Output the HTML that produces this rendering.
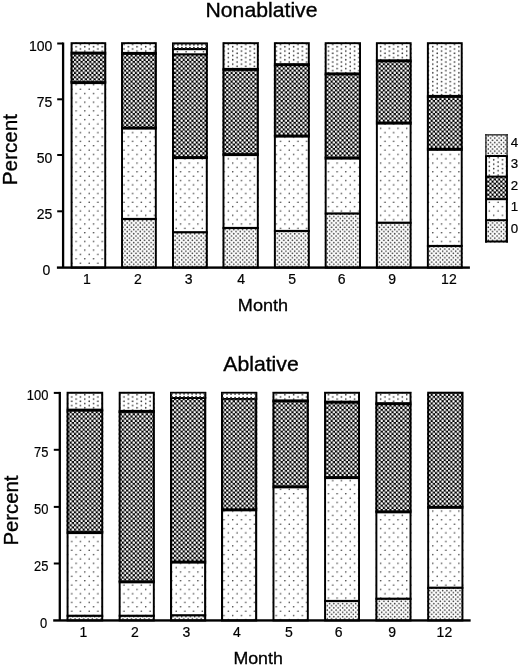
<!DOCTYPE html>
<html><head><meta charset="utf-8"><title>Chart</title>
<style>html,body{margin:0;padding:0;background:#fff;}svg{display:block}</style></head>
<body><svg width="520" height="666" viewBox="0 0 520 666" font-family='"Liberation Sans", sans-serif' fill="#000"><defs><pattern id="p0" width="4.35" height="4.35" patternUnits="userSpaceOnUse"><rect width="4.35" height="4.35" fill="#fff"/><circle cx="1.0875" cy="1.0875" r="0.8" fill="#333"/><circle cx="3.2624999999999997" cy="3.2624999999999997" r="0.8" fill="#333"/></pattern><pattern id="p4" width="4.35" height="4.35" patternUnits="userSpaceOnUse"><rect width="4.35" height="4.35" fill="#fff"/><circle cx="1.0875" cy="1.0875" r="0.8" fill="#333"/><circle cx="3.2624999999999997" cy="3.2624999999999997" r="0.8" fill="#333"/></pattern><pattern id="p1" width="8.7" height="8.7" patternUnits="userSpaceOnUse"><rect width="8.7" height="8.7" fill="#fff"/><circle cx="2.175" cy="2.175" r="0.8" fill="#303030"/><circle cx="6.5249999999999995" cy="6.5249999999999995" r="0.8" fill="#303030"/></pattern><pattern id="p3" width="8.7" height="4.35" patternUnits="userSpaceOnUse"><rect width="8.7" height="4.35" fill="#fff"/><circle cx="2.175" cy="1.0875" r="0.8" fill="#303030"/><circle cx="6.5249999999999995" cy="3.2624999999999997" r="0.8" fill="#303030"/></pattern><pattern id="p2" width="4.35" height="4.35" patternUnits="userSpaceOnUse"><rect width="4.35" height="4.35" fill="#000"/><circle cx="1.0875" cy="1.0875" r="1.22" fill="#fff"/><circle cx="3.2624999999999997" cy="3.2624999999999997" r="1.22" fill="#fff"/></pattern></defs><text transform="translate(261.5,17) scale(1.035,1)" font-size="20.5" text-anchor="middle" stroke="#000" stroke-width="0.35">Nonablative</text><rect x="70.6" y="42.2" width="35.60000000000001" height="10.5" fill="url(#p3)"/><rect x="70.6" y="52.7" width="35.60000000000001" height="30.299999999999997" fill="url(#p2)"/><rect x="70.6" y="83" width="35.60000000000001" height="184.60000000000002" fill="url(#p1)"/><rect x="70.6" y="51.60" width="35.60000000000001" height="3.00" fill="#000"/><rect x="70.6" y="81.10" width="35.60000000000001" height="3.00" fill="#000"/><rect x="71.57499999999999" y="43.175000000000004" width="33.650000000000006" height="224.42500000000004" fill="none" stroke="#000" stroke-width="1.95"/><rect x="121.05" y="42.2" width="35.750000000000014" height="10.799999999999997" fill="url(#p3)"/><rect x="121.05" y="53" width="35.750000000000014" height="75.5" fill="url(#p2)"/><rect x="121.05" y="128.5" width="35.750000000000014" height="90.5" fill="url(#p1)"/><rect x="121.05" y="219" width="35.750000000000014" height="48.60000000000002" fill="url(#p0)"/><rect x="121.05" y="51.90" width="35.750000000000014" height="3.00" fill="#000"/><rect x="121.05" y="126.60" width="35.750000000000014" height="3.00" fill="#000"/><rect x="121.05" y="217.90" width="35.750000000000014" height="2.20" fill="#000"/><rect x="122.02499999999999" y="43.175000000000004" width="33.80000000000001" height="224.42500000000004" fill="none" stroke="#000" stroke-width="1.95"/><rect x="172.0" y="42.6" width="35.80000000000001" height="11.799999999999997" fill="#000"/><rect x="172.0" y="54.4" width="35.80000000000001" height="103.6" fill="url(#p2)"/><rect x="172.0" y="158" width="35.80000000000001" height="74.25" fill="url(#p1)"/><rect x="172.0" y="232.25" width="35.80000000000001" height="35.35000000000002" fill="url(#p0)"/><rect x="172.0" y="53.40" width="35.80000000000001" height="2.00" fill="#000"/><rect x="172.0" y="156.10" width="35.80000000000001" height="3.00" fill="#000"/><rect x="172.0" y="231.15" width="35.80000000000001" height="2.20" fill="#000"/><rect x="173.0" y="43.6" width="33.80000000000001" height="224.00000000000003" fill="none" stroke="#000" stroke-width="2.0"/><rect x="173.9" y="44.4" width="32.0" height="3.6000000000000014" fill="#fff"/><circle cx="173.90" cy="44.70" r="0.95" fill="#333"/><circle cx="173.90" cy="47.70" r="0.95" fill="#333"/><circle cx="177.90" cy="44.70" r="0.95" fill="#333"/><circle cx="177.90" cy="47.70" r="0.95" fill="#333"/><circle cx="181.90" cy="44.70" r="0.95" fill="#333"/><circle cx="181.90" cy="47.70" r="0.95" fill="#333"/><circle cx="185.90" cy="44.70" r="0.95" fill="#333"/><circle cx="185.90" cy="47.70" r="0.95" fill="#333"/><circle cx="189.90" cy="44.70" r="0.95" fill="#333"/><circle cx="189.90" cy="47.70" r="0.95" fill="#333"/><circle cx="193.90" cy="44.70" r="0.95" fill="#333"/><circle cx="193.90" cy="47.70" r="0.95" fill="#333"/><circle cx="197.90" cy="44.70" r="0.95" fill="#333"/><circle cx="197.90" cy="47.70" r="0.95" fill="#333"/><circle cx="201.90" cy="44.70" r="0.95" fill="#333"/><circle cx="201.90" cy="47.70" r="0.95" fill="#333"/><circle cx="205.90" cy="44.70" r="0.95" fill="#333"/><circle cx="205.90" cy="47.70" r="0.95" fill="#333"/><rect x="173.9" y="50.2" width="32.0" height="3.0999999999999943" fill="#fff"/><circle cx="177.40" cy="51.75" r="0.85" fill="#555"/><circle cx="186.10" cy="51.75" r="0.85" fill="#555"/><circle cx="194.80" cy="51.75" r="0.85" fill="#555"/><circle cx="203.50" cy="51.75" r="0.85" fill="#555"/><rect x="222.5" y="42.2" width="36.30000000000001" height="26.799999999999997" fill="url(#p3)"/><rect x="222.5" y="69" width="36.30000000000001" height="86" fill="url(#p2)"/><rect x="222.5" y="155" width="36.30000000000001" height="73" fill="url(#p1)"/><rect x="222.5" y="228" width="36.30000000000001" height="39.60000000000002" fill="url(#p0)"/><rect x="222.5" y="67.90" width="36.30000000000001" height="3.00" fill="#000"/><rect x="222.5" y="153.10" width="36.30000000000001" height="3.00" fill="#000"/><rect x="222.5" y="226.90" width="36.30000000000001" height="2.20" fill="#000"/><rect x="223.475" y="43.175000000000004" width="34.35000000000001" height="224.42500000000004" fill="none" stroke="#000" stroke-width="1.95"/><rect x="273.9" y="42.2" width="35.900000000000034" height="22.049999999999997" fill="url(#p3)"/><rect x="273.9" y="64.25" width="35.900000000000034" height="72.25" fill="url(#p2)"/><rect x="273.9" y="136.5" width="35.900000000000034" height="94.5" fill="url(#p1)"/><rect x="273.9" y="231" width="35.900000000000034" height="36.60000000000002" fill="url(#p0)"/><rect x="273.9" y="63.15" width="35.900000000000034" height="3.00" fill="#000"/><rect x="273.9" y="134.60" width="35.900000000000034" height="3.00" fill="#000"/><rect x="273.9" y="229.90" width="35.900000000000034" height="2.20" fill="#000"/><rect x="274.875" y="43.175000000000004" width="33.95000000000003" height="224.42500000000004" fill="none" stroke="#000" stroke-width="1.95"/><rect x="324.7" y="42.2" width="36.30000000000001" height="31.299999999999997" fill="url(#p3)"/><rect x="324.7" y="73.5" width="36.30000000000001" height="85.0" fill="url(#p2)"/><rect x="324.7" y="158.5" width="36.30000000000001" height="55.0" fill="url(#p1)"/><rect x="324.7" y="213.5" width="36.30000000000001" height="54.10000000000002" fill="url(#p0)"/><rect x="324.7" y="72.40" width="36.30000000000001" height="3.00" fill="#000"/><rect x="324.7" y="156.60" width="36.30000000000001" height="3.00" fill="#000"/><rect x="324.7" y="212.40" width="36.30000000000001" height="2.20" fill="#000"/><rect x="325.675" y="43.175000000000004" width="34.35000000000001" height="224.42500000000004" fill="none" stroke="#000" stroke-width="1.95"/><rect x="375.9" y="42.2" width="35.700000000000045" height="18.199999999999996" fill="url(#p3)"/><rect x="375.9" y="60.4" width="35.700000000000045" height="63.1" fill="url(#p2)"/><rect x="375.9" y="123.5" width="35.700000000000045" height="99.25" fill="url(#p1)"/><rect x="375.9" y="222.75" width="35.700000000000045" height="44.85000000000002" fill="url(#p0)"/><rect x="375.9" y="59.30" width="35.700000000000045" height="3.00" fill="#000"/><rect x="375.9" y="121.60" width="35.700000000000045" height="3.00" fill="#000"/><rect x="375.9" y="221.65" width="35.700000000000045" height="2.20" fill="#000"/><rect x="376.875" y="43.175000000000004" width="33.75000000000004" height="224.42500000000004" fill="none" stroke="#000" stroke-width="1.95"/><rect x="426.9" y="42.2" width="35.80000000000001" height="53.8" fill="url(#p3)"/><rect x="426.9" y="96" width="35.80000000000001" height="53.75" fill="url(#p2)"/><rect x="426.9" y="149.75" width="35.80000000000001" height="96.25" fill="url(#p1)"/><rect x="426.9" y="246" width="35.80000000000001" height="21.600000000000023" fill="url(#p0)"/><rect x="426.9" y="94.90" width="35.80000000000001" height="3.00" fill="#000"/><rect x="426.9" y="147.85" width="35.80000000000001" height="3.00" fill="#000"/><rect x="426.9" y="244.90" width="35.80000000000001" height="2.20" fill="#000"/><rect x="427.875" y="43.175000000000004" width="33.85000000000001" height="224.42500000000004" fill="none" stroke="#000" stroke-width="1.95"/><rect x="61.95" y="42.5" width="2.3" height="225.10000000000002" fill="#000"/><rect x="56.9" y="266.40000000000003" width="413.0" height="2.4" fill="#000"/><text transform="translate(50.4,275.1) scale(1.0,1)" font-size="14" text-anchor="end" stroke="#000" stroke-width="0.2">0</text><rect x="57.2" y="210.3" width="5.899999999999999" height="2" fill="#000"/><text transform="translate(52.4,218.8) scale(1.0,1)" font-size="14" text-anchor="end" stroke="#000" stroke-width="0.2">25</text><rect x="57.2" y="154.0" width="5.899999999999999" height="2" fill="#000"/><text transform="translate(52.4,162.5) scale(1.0,1)" font-size="14" text-anchor="end" stroke="#000" stroke-width="0.2">50</text><rect x="57.2" y="98.3" width="5.899999999999999" height="2" fill="#000"/><text transform="translate(52.4,106.8) scale(1.0,1)" font-size="14" text-anchor="end" stroke="#000" stroke-width="0.2">75</text><rect x="57.2" y="42.5" width="5.899999999999999" height="2" fill="#000"/><text transform="translate(52.4,51.0) scale(1.0,1)" font-size="14" text-anchor="end" stroke="#000" stroke-width="0.2">100</text><text x="86.89999999999999" y="284.0" font-size="14" text-anchor="middle" stroke="#000" stroke-width="0.2">1</text><text x="137.8" y="284.0" font-size="14" text-anchor="middle" stroke="#000" stroke-width="0.2">2</text><text x="188.55" y="284.0" font-size="14" text-anchor="middle" stroke="#000" stroke-width="0.2">3</text><text x="241.10000000000002" y="284.0" font-size="14" text-anchor="middle" stroke="#000" stroke-width="0.2">4</text><text x="292.2" y="284.0" font-size="14" text-anchor="middle" stroke="#000" stroke-width="0.2">5</text><text x="341.6" y="284.0" font-size="14" text-anchor="middle" stroke="#000" stroke-width="0.2">6</text><text x="392.2" y="284.0" font-size="14" text-anchor="middle" stroke="#000" stroke-width="0.2">9</text><text x="448.90000000000003" y="284.0" font-size="14" text-anchor="middle" stroke="#000" stroke-width="0.2">12</text><text transform="translate(16.6,149.6) rotate(-90) scale(1.012,1)" font-size="20.5" text-anchor="middle" stroke="#000" stroke-width="0.35">Percent</text><text transform="translate(263,311.25) scale(1.052,1)" font-size="17.2" text-anchor="middle" stroke="#000" stroke-width="0.3">Month</text><text transform="translate(261,370.75) scale(1.035,1)" font-size="20.5" text-anchor="middle" stroke="#000" stroke-width="0.35">Ablative</text><rect x="66.6" y="391.8" width="36.60000000000001" height="17.94999999999999" fill="url(#p3)"/><rect x="66.6" y="409.75" width="36.60000000000001" height="123.25" fill="url(#p2)"/><rect x="66.6" y="533" width="36.60000000000001" height="82.79999999999995" fill="url(#p1)"/><rect x="66.6" y="615.8" width="36.60000000000001" height="4.650000000000091" fill="url(#p0)"/><rect x="66.6" y="408.65" width="36.60000000000001" height="3.00" fill="#000"/><rect x="66.6" y="531.10" width="36.60000000000001" height="3.00" fill="#000"/><rect x="66.6" y="614.70" width="36.60000000000001" height="2.20" fill="#000"/><rect x="67.57499999999999" y="392.77500000000003" width="34.650000000000006" height="227.67500000000004" fill="none" stroke="#000" stroke-width="1.95"/><rect x="118.7" y="391.8" width="36.10000000000001" height="19.19999999999999" fill="url(#p3)"/><rect x="118.7" y="411" width="36.10000000000001" height="171.25" fill="url(#p2)"/><rect x="118.7" y="582.25" width="36.10000000000001" height="33.549999999999955" fill="url(#p1)"/><rect x="118.7" y="615.8" width="36.10000000000001" height="4.650000000000091" fill="url(#p0)"/><rect x="118.7" y="409.90" width="36.10000000000001" height="3.00" fill="#000"/><rect x="118.7" y="580.35" width="36.10000000000001" height="3.00" fill="#000"/><rect x="118.7" y="614.70" width="36.10000000000001" height="2.20" fill="#000"/><rect x="119.675" y="392.77500000000003" width="34.150000000000006" height="227.67500000000004" fill="none" stroke="#000" stroke-width="1.95"/><rect x="170.0" y="391.9" width="36.19999999999999" height="6.100000000000023" fill="#000"/><rect x="170.0" y="398.0" width="36.19999999999999" height="164.5" fill="url(#p2)"/><rect x="170.0" y="562.5" width="36.19999999999999" height="52.799999999999955" fill="url(#p1)"/><rect x="170.0" y="615.3" width="36.19999999999999" height="5.150000000000091" fill="url(#p0)"/><rect x="170.0" y="397.00" width="36.19999999999999" height="2.00" fill="#000"/><rect x="170.0" y="560.60" width="36.19999999999999" height="3.00" fill="#000"/><rect x="170.0" y="614.20" width="36.19999999999999" height="2.20" fill="#000"/><rect x="171.05" y="392.95" width="34.09999999999999" height="227.50000000000006" fill="none" stroke="#000" stroke-width="2.1"/><rect x="172.0" y="393.5" width="32.19999999999999" height="3.5" fill="#fff"/><circle cx="172.00" cy="393.80" r="0.95" fill="#333"/><circle cx="172.00" cy="396.70" r="0.95" fill="#333"/><circle cx="176.03" cy="393.80" r="0.95" fill="#333"/><circle cx="176.03" cy="396.70" r="0.95" fill="#333"/><circle cx="180.05" cy="393.80" r="0.95" fill="#333"/><circle cx="180.05" cy="396.70" r="0.95" fill="#333"/><circle cx="184.07" cy="393.80" r="0.95" fill="#333"/><circle cx="184.07" cy="396.70" r="0.95" fill="#333"/><circle cx="188.10" cy="393.80" r="0.95" fill="#333"/><circle cx="188.10" cy="396.70" r="0.95" fill="#333"/><circle cx="192.12" cy="393.80" r="0.95" fill="#333"/><circle cx="192.12" cy="396.70" r="0.95" fill="#333"/><circle cx="196.15" cy="393.80" r="0.95" fill="#333"/><circle cx="196.15" cy="396.70" r="0.95" fill="#333"/><circle cx="200.17" cy="393.80" r="0.95" fill="#333"/><circle cx="200.17" cy="396.70" r="0.95" fill="#333"/><circle cx="204.20" cy="393.80" r="0.95" fill="#333"/><circle cx="204.20" cy="396.70" r="0.95" fill="#333"/><rect x="221.0" y="391.9" width="36.19999999999999" height="6.900000000000034" fill="#000"/><rect x="221.0" y="398.8" width="36.19999999999999" height="111.44999999999999" fill="url(#p2)"/><rect x="221.0" y="510.25" width="36.19999999999999" height="110.20000000000005" fill="url(#p1)"/><rect x="221.0" y="397.80" width="36.19999999999999" height="2.00" fill="#000"/><rect x="221.0" y="508.35" width="36.19999999999999" height="3.00" fill="#000"/><rect x="222.05" y="392.95" width="34.09999999999999" height="227.50000000000006" fill="none" stroke="#000" stroke-width="2.1"/><rect x="223.0" y="393.6" width="32.19999999999999" height="4.399999999999977" fill="#fff"/><circle cx="223.00" cy="393.90" r="0.95" fill="#333"/><circle cx="223.00" cy="397.70" r="0.95" fill="#333"/><circle cx="227.03" cy="393.90" r="0.95" fill="#333"/><circle cx="227.03" cy="397.70" r="0.95" fill="#333"/><circle cx="231.05" cy="393.90" r="0.95" fill="#333"/><circle cx="231.05" cy="397.70" r="0.95" fill="#333"/><circle cx="235.07" cy="393.90" r="0.95" fill="#333"/><circle cx="235.07" cy="397.70" r="0.95" fill="#333"/><circle cx="239.10" cy="393.90" r="0.95" fill="#333"/><circle cx="239.10" cy="397.70" r="0.95" fill="#333"/><circle cx="243.12" cy="393.90" r="0.95" fill="#333"/><circle cx="243.12" cy="397.70" r="0.95" fill="#333"/><circle cx="247.15" cy="393.90" r="0.95" fill="#333"/><circle cx="247.15" cy="397.70" r="0.95" fill="#333"/><circle cx="251.17" cy="393.90" r="0.95" fill="#333"/><circle cx="251.17" cy="397.70" r="0.95" fill="#333"/><circle cx="255.20" cy="393.90" r="0.95" fill="#333"/><circle cx="255.20" cy="397.70" r="0.95" fill="#333"/><rect x="272.5" y="391.8" width="36.30000000000001" height="8.699999999999989" fill="url(#p3)"/><rect x="272.5" y="400.5" width="36.30000000000001" height="86.75" fill="url(#p2)"/><rect x="272.5" y="487.25" width="36.30000000000001" height="133.20000000000005" fill="url(#p1)"/><rect x="272.5" y="399.40" width="36.30000000000001" height="3.00" fill="#000"/><rect x="272.5" y="485.35" width="36.30000000000001" height="3.00" fill="#000"/><rect x="273.475" y="392.77500000000003" width="34.35000000000001" height="227.67500000000004" fill="none" stroke="#000" stroke-width="1.95"/><rect x="324.1" y="391.8" width="35.89999999999998" height="9.949999999999989" fill="url(#p3)"/><rect x="324.1" y="401.75" width="35.89999999999998" height="76.25" fill="url(#p2)"/><rect x="324.1" y="478" width="35.89999999999998" height="123" fill="url(#p1)"/><rect x="324.1" y="601" width="35.89999999999998" height="19.450000000000045" fill="url(#p0)"/><rect x="324.1" y="400.65" width="35.89999999999998" height="3.00" fill="#000"/><rect x="324.1" y="476.10" width="35.89999999999998" height="3.00" fill="#000"/><rect x="324.1" y="599.90" width="35.89999999999998" height="2.20" fill="#000"/><rect x="325.07500000000005" y="392.77500000000003" width="33.949999999999974" height="227.67500000000004" fill="none" stroke="#000" stroke-width="1.95"/><rect x="375.4" y="391.8" width="36.10000000000002" height="11.449999999999989" fill="url(#p3)"/><rect x="375.4" y="403.25" width="36.10000000000002" height="109.0" fill="url(#p2)"/><rect x="375.4" y="512.25" width="36.10000000000002" height="86.5" fill="url(#p1)"/><rect x="375.4" y="598.75" width="36.10000000000002" height="21.700000000000045" fill="url(#p0)"/><rect x="375.4" y="402.15" width="36.10000000000002" height="3.00" fill="#000"/><rect x="375.4" y="510.35" width="36.10000000000002" height="3.00" fill="#000"/><rect x="375.4" y="597.65" width="36.10000000000002" height="2.20" fill="#000"/><rect x="376.375" y="392.77500000000003" width="34.15000000000002" height="227.67500000000004" fill="none" stroke="#000" stroke-width="1.95"/><rect x="427.2" y="391.8" width="36.19999999999999" height="115.94999999999999" fill="url(#p2)"/><rect x="427.2" y="507.75" width="36.19999999999999" height="80.0" fill="url(#p1)"/><rect x="427.2" y="587.75" width="36.19999999999999" height="32.700000000000045" fill="url(#p0)"/><rect x="427.2" y="505.85" width="36.19999999999999" height="3.00" fill="#000"/><rect x="427.2" y="586.65" width="36.19999999999999" height="2.20" fill="#000"/><rect x="428.175" y="392.77500000000003" width="34.249999999999986" height="227.67500000000004" fill="none" stroke="#000" stroke-width="1.95"/><rect x="58.65" y="391.9" width="2.3" height="228.55000000000007" fill="#000"/><rect x="53.2" y="619.25" width="417.45" height="2.4" fill="#000"/><text transform="translate(47.199999999999996,627.75) scale(0.925,1)" font-size="14" text-anchor="end" stroke="#000" stroke-width="0.2">0</text><rect x="53.8" y="562.5" width="6.0" height="2" fill="#000"/><text transform="translate(48.4,570.8) scale(0.925,1)" font-size="14" text-anchor="end" stroke="#000" stroke-width="0.2">25</text><rect x="53.8" y="505.9" width="6.0" height="2" fill="#000"/><text transform="translate(48.4,514.2) scale(0.925,1)" font-size="14" text-anchor="end" stroke="#000" stroke-width="0.2">50</text><rect x="53.8" y="448.8" width="6.0" height="2" fill="#000"/><text transform="translate(48.4,457.1) scale(0.925,1)" font-size="14" text-anchor="end" stroke="#000" stroke-width="0.2">75</text><rect x="53.8" y="391.9" width="6.0" height="2" fill="#000"/><text transform="translate(48.4,400.2) scale(0.925,1)" font-size="14" text-anchor="end" stroke="#000" stroke-width="0.2">100</text><text x="83.3" y="636.5" font-size="14" text-anchor="middle" stroke="#000" stroke-width="0.2">1</text><text x="135.0" y="636.5" font-size="14" text-anchor="middle" stroke="#000" stroke-width="0.2">2</text><text x="186.3" y="636.5" font-size="14" text-anchor="middle" stroke="#000" stroke-width="0.2">3</text><text x="236.8" y="636.5" font-size="14" text-anchor="middle" stroke="#000" stroke-width="0.2">4</text><text x="289.0" y="636.5" font-size="14" text-anchor="middle" stroke="#000" stroke-width="0.2">5</text><text x="338.6" y="636.5" font-size="14" text-anchor="middle" stroke="#000" stroke-width="0.2">6</text><text x="392.05" y="636.5" font-size="14" text-anchor="middle" stroke="#000" stroke-width="0.2">9</text><text x="444.40000000000003" y="636.5" font-size="14" text-anchor="middle" stroke="#000" stroke-width="0.2">12</text><text transform="translate(18.4,510.6) rotate(-90) scale(0.99,1)" font-size="20.5" text-anchor="middle" stroke="#000" stroke-width="0.35">Percent</text><text transform="translate(258.1,664.4) scale(1.06,1)" font-size="16.8" text-anchor="middle" stroke="#000" stroke-width="0.3">Month</text><rect x="485.05" y="134.2" width="22.849999999999966" height="21.80000000000001" fill="url(#p4)"/><rect x="485.05" y="156.0" width="22.849999999999966" height="20.599999999999994" fill="url(#p3)"/><rect x="485.05" y="176.6" width="22.849999999999966" height="22.599999999999994" fill="url(#p2)"/><rect x="485.05" y="199.2" width="22.849999999999966" height="21.0" fill="url(#p1)"/><rect x="485.05" y="220.2" width="22.849999999999966" height="22.30000000000001" fill="url(#p0)"/><rect x="485.05" y="155.0" width="22.849999999999966" height="2" fill="#000"/><rect x="485.05" y="175.6" width="22.849999999999966" height="2" fill="#000"/><rect x="485.05" y="198.2" width="22.849999999999966" height="2" fill="#000"/><rect x="485.05" y="219.2" width="22.849999999999966" height="2" fill="#000"/><rect x="485.05" y="134.2" width="22.849999999999966" height="1.3" fill="#222"/><rect x="485.05" y="240.5" width="22.849999999999966" height="2.0" fill="#000"/><rect x="485.05" y="156.0" width="2.0" height="86.5" fill="#000"/><rect x="505.9" y="156.0" width="2.0" height="86.5" fill="#000"/><rect x="485.25" y="134.2" width="1.3" height="21.80000000000001" fill="#222"/><rect x="506.4" y="134.2" width="1.3" height="21.80000000000001" fill="#222"/><text x="510.7" y="146.7" font-size="13.3" stroke="#000" stroke-width="0.2">4</text><text x="510.7" y="167.9" font-size="13.3" stroke="#000" stroke-width="0.2">3</text><text x="510.7" y="189.49999999999997" font-size="13.3" stroke="#000" stroke-width="0.2">2</text><text x="510.7" y="211.29999999999998" font-size="13.3" stroke="#000" stroke-width="0.2">1</text><text x="510.7" y="232.95" font-size="13.3" stroke="#000" stroke-width="0.2">0</text></svg></body></html>
